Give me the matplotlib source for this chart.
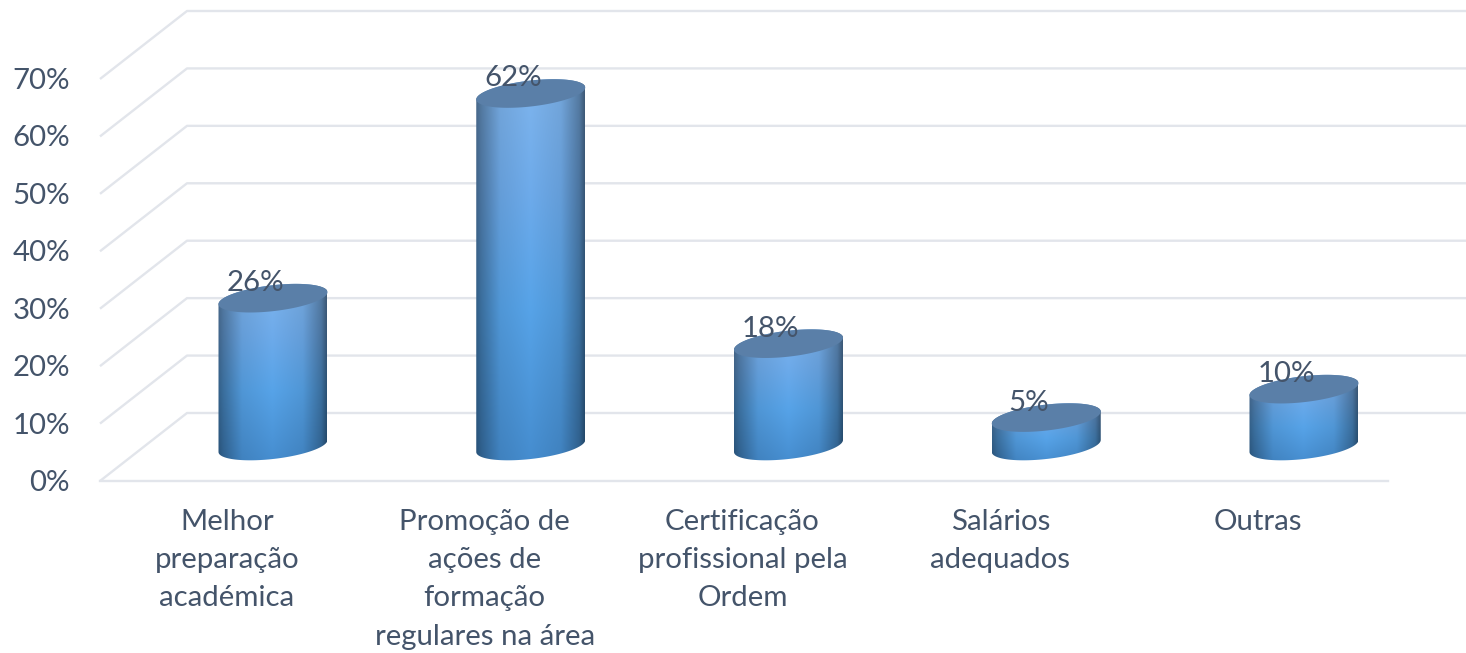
import numpy as np
import matplotlib
matplotlib.use("Agg")
import matplotlib.pyplot as plt
from matplotlib.path import Path
from matplotlib.patches import PathPatch

categories = ["Melhor\npreparação\nacadémica",
              "Promoção de\nações de\nformação\nregulares na área",
              "Certificação\nprofissional pela\nOrdem",
              "Salários\nadequados",
              "Outras"]
values = [26, 62, 18, 5, 10]
axis_ticks = [0, 10, 20, 30, 40, 50, 60, 70]

W, H = 1466, 653
TEXT = "#44546A"
GRID = "#E2E5EB"
TOP = "#5A7FA8"
FS = 21.2

# px per unit, the whole figure is one axes
PX_X = 257.75
PX_Y = 5.743
X0 = 273
Y0 = 481


def xpx(p):
    return (p - X0) / PX_X


def ypx(p):
    return (Y0 - p) / PX_Y


plt.rcParams["font.family"] = ["Lato", "DejaVu Sans"]
fig = plt.figure(figsize=(W / 100, H / 100), dpi=100)
ax = fig.add_axes([0, 0, 1, 1])
ax.set_xlim(xpx(0), xpx(W))
ax.set_ylim(ypx(H), ypx(0))
ax.axis("off")

# walls
depth_x = 87 / PX_X
depth_y = 68 / PX_Y
left = xpx(100)
for t in axis_ticks:
    ax.plot([left, left + depth_x, xpx(W)], [t, t + depth_y, t + depth_y],
            color=GRID, lw=1.7, zorder=1, solid_capstyle="butt")
    ax.text(xpx(70), t - 2 / PX_Y, f"{t}%", fontsize=FS, color=TEXT, ha="right", va="center", zorder=5)
ax.plot([left, xpx(1388)], [0, 0], color=GRID, lw=1.7, zorder=1)

# cylinders
a = 54.5 / PX_X
b = 13 / PX_Y
c = 6 / PX_Y
base = (Y0 - 446) / PX_Y
scale = 0.99


def arc(xc, yc, t):
    return np.column_stack([xc + a * np.cos(t), yc + c * np.cos(t) + b * np.sin(t)])


def shade():
    ny = 200
    nx = 200
    u = np.linspace(0, 1, nx)
    v = np.linspace(0, 1, ny)
    h = np.interp(u, [0, 0.05, 0.22, 0.5, 0.78, 0.95, 1], [0.58, 0.68, 0.92, 1.0, 0.92, 0.68, 0.5])
    stops = np.array([[0.50, 0.71, 0.93], [0.43, 0.67, 0.92], [0.34, 0.64, 0.91], [0.27, 0.55, 0.81]])
    img = np.zeros((ny, nx, 3))
    for k in range(3):
        col = np.interp(v, [0, 0.3, 0.6, 1], stops[:, k])
        img[:, :, k] = np.outer(col, h)
    return img


for i, val in enumerate(values):
    yb = base
    yt = base + val * scale
    lower = arc(i, yb, np.linspace(np.pi, 2 * np.pi, 60))
    upper = arc(i, yt, np.linspace(0, np.pi, 60))
    pts = np.vstack([lower, upper, lower[:1]])
    body = PathPatch(Path(pts), fc="none", ec="none", transform=ax.transData)
    ax.add_patch(body)
    im = ax.imshow(shade(), extent=[i - a, i + a, yb - b - c, yt + b + c],
                   aspect="auto", origin="upper", zorder=3, interpolation="bilinear")
    im.set_clip_path(body)
    ring = arc(i, yt, np.linspace(0, 2 * np.pi, 120))
    ax.fill(ring[:, 0], ring[:, 1], color=TOP, zorder=4, lw=0)
    ax.text(i - 18 / PX_X, yt + 15 / PX_Y, f"{val}%", fontsize=FS, color=TEXT,
            ha="center", va="center", zorder=6)

ax.set_xlim(xpx(0), xpx(W))
ax.set_ylim(ypx(H), ypx(0))

for i, lab in enumerate(categories):
    ax.text(i - 46 / PX_X, ypx(509), lab, fontsize=FS, color=TEXT, ha="center", va="top",
            linespacing=1.58, zorder=5)

fig.savefig("out.png", dpi=100)
